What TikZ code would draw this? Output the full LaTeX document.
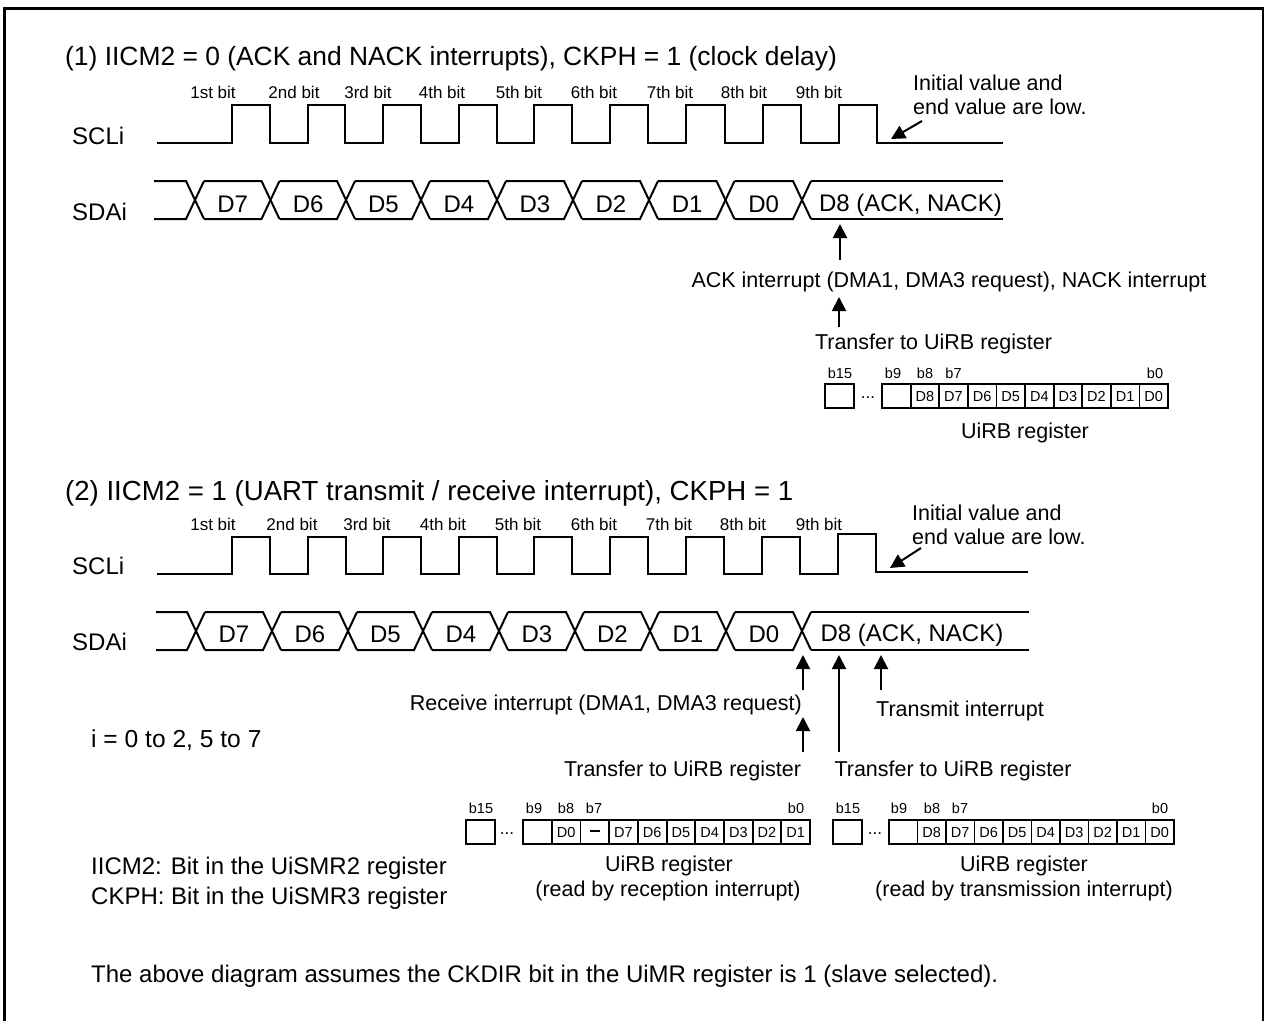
\documentclass[tikz,border=0pt]{standalone}
\usepackage{fontspec}
\setmainfont{Liberation Sans}
\usetikzlibrary{arrows.meta}
\tikzset{
    lab/.style={font=\fontsize{26.4}{30}\selectfont, inner sep=0pt},
    txt/.style={font=\fontsize{21.5}{26}\selectfont, inner sep=0pt},
    big/.style={font=\fontsize{24}{28}\selectfont, inner sep=0pt},
    bitlab/.style={font=\fontsize{17}{20}\selectfont, inner sep=0pt},
    reglab/.style={font=\fontsize{14.5}{17}\selectfont, inner sep=0pt}
}

\begin{document}
\begin{tikzpicture}[x=1pt,y=-1pt, line join=miter]

\tikzset{
  main/.style={draw=black, line width=2pt},
  pointer/.style={draw=black, line width=2pt, -{Triangle[length=14pt,width=14pt]}},
  cell/.style={draw=black, line width=1.8pt, minimum width=28.6pt, minimum height=24pt, inner sep=0pt, text height=10.5pt, text depth=0pt, font=\fontsize{14.5}{17}\selectfont},
  gapcell/.style={draw=black, line width=2pt, minimum width=29pt, minimum height=24pt, inner sep=0pt},
}

\useasboundingbox (0,0) rectangle (1264,1021);

% frame
\draw[line width=3pt] (4.5,1021) -- (4.5,8.5) -- (1264,8.5);
\draw[line width=2pt] (1263,8.5) -- (1263,1021);

% titles
\node[lab, anchor=west] (title1) at (65,59) {(1) IICM2 = 0 (ACK and NACK interrupts), CKPH = 1 (clock delay)};
\node[lab, anchor=west, font=\fontsize{27.6}{30}\selectfont] (title2) at (65,493) {(2) IICM2 = 1 (UART transmit / receive interrupt), CKPH = 1};

% signal names
\node[big, anchor=west] (scl1) at (72,136) {SCLi};
\node[big, anchor=west] (sda1) at (72,212) {SDAi};
\node[big, anchor=west] (scl2) at (72,566) {SCLi};
\node[big, anchor=west] (sda2) at (72,642) {SDAi};

% clock (1)
\draw[main] (157,143) -- (232,143) -- (232,105) -- (270,105) -- (270,143)
  -- (308,143) -- (308,105) -- (345,105) -- (345,143)
  -- (383,143) -- (383,105) -- (421,105) -- (421,143)
  -- (459,143) -- (459,105) -- (497,105) -- (497,143)
  -- (534,143) -- (534,105) -- (572,105) -- (572,143)
  -- (610,143) -- (610,105) -- (648,105) -- (648,143)
  -- (686,143) -- (686,105) -- (725,105) -- (725,143)
  -- (763,143) -- (763,105) -- (801,105) -- (801,143)
  -- (839,143) -- (839,105) -- (877,105) -- (877,143) -- (1003,143);

% clock (2)
\draw[main] (157,574) -- (232,574) -- (232,537) -- (270,537) -- (270,574)
  -- (308,574) -- (308,537) -- (346,537) -- (346,574)
  -- (383,574) -- (383,537) -- (421,537) -- (421,574)
  -- (459,574) -- (459,537) -- (497,537) -- (497,574)
  -- (534,574) -- (534,537) -- (572,537) -- (572,574)
  -- (610,574) -- (610,537) -- (648,537) -- (648,574)
  -- (686,574) -- (686,537) -- (724,537) -- (724,574)
  -- (762,574) -- (762,537) -- (800,537) -- (800,574)
  -- (838,574) -- (838,534) -- (876,534) -- (876,572) -- (1028,572);

% bit numbers
\foreach \nm/\xa/\xb/\lbl in {a/213/213/1st, b/294/292/2nd, c/368/367/3rd, d/442/443/4th, e/519/518/5th, f/594/594/6th, g/670/669/7th, h/744/743/8th, i/819/819/9th}{
  \node[bitlab] (bita\nm) at (\xa,92) {\lbl\ bit};
  \node[bitlab] (bitb\nm) at (\xb,524) {\lbl\ bit};
}

% data (1)
\draw[main] (154,181) -- (186,181) -- (204,219);
\draw[main] (154,219) -- (186,219) -- (204,181);
\foreach \xl/\xr/\lbl [count=\n] in {195/270.5/D7, 270.5/346/D6, 346/421/D5, 421/497/D4, 497/573/D3, 573/649/D2, 649/725.5/D1, 725.5/802/D0}{
  \draw[main] (\xl+9,181) -- (\xr-9,181) -- (\xr+9,219);
  \draw[main] (\xl+9,219) -- (\xr-9,219) -- (\xr+9,181);
  \node[big] (dataa\n) at ({(\xl+\xr)/2},204) {\lbl};
}
\draw[main] (811,181) -- (1003,181);
\draw[main] (811,219) -- (1003,219);
\node[big] (dataa9) at (910.5,205) {D8 (ACK, NACK)};

% data (2)
\draw[main] (156,612) -- (187,612) -- (205,650);
\draw[main] (156,650) -- (187,650) -- (205,612);
\foreach \xl/\xr/\lbl [count=\n] in {196/272/D7, 272/348/D6, 348/423/D5, 423/499/D4, 499/575/D3, 575/650/D2, 650/726/D1, 726/802/D0}{
  \draw[main] (\xl+9,612) -- (\xr-9,612) -- (\xr+9,650);
  \draw[main] (\xl+9,650) -- (\xr-9,650) -- (\xr+9,612);
  \node[big] (datab\n) at ({(\xl+\xr)/2},634) {\lbl};
}
\draw[main] (811,612) -- (1029,612);
\draw[main] (811,650) -- (1029,650);
\node[big] (datab9) at (912,635) {D8 (ACK, NACK)};

% notes (1)
\node[txt, anchor=west] (inita) at (913,83) {Initial value and};
\node[txt, anchor=west] (initb) at (913,107) {end value are low.};
\node[txt] (ack) at (949,281.5) {ACK interrupt (DMA1, DMA3 request), NACK interrupt};
\node[txt] (xfer) at (933.5,343.5) {Transfer to UiRB register};

\coordinate (lowa) at (891,139);
\coordinate (ackt) at (840,224);
\coordinate (ackb) at (840,260);
\coordinate (xfert) at (839,297);
\coordinate (xferb) at (839,327);
\draw[pointer] (922,121) -- (lowa);
\draw[pointer] (ackb) -- (ackt);
\draw[pointer] (xferb) -- (xfert);

% notes (2)
\node[txt, anchor=west] (initc) at (912,513) {Initial value and};
\node[txt, anchor=west] (initd) at (912,537) {end value are low.};
\node[txt, anchor=east] (rx) at (802,704.5) {Receive interrupt (DMA1, DMA3 request)};
\node[txt, anchor=west] (tx) at (876,710.5) {Transmit interrupt};
\node[txt] (xferc) at (682.5,770.5) {Transfer to UiRB register};
\node[txt] (xferd) at (953,770.5) {Transfer to UiRB register};
\node[big, anchor=west, font=\fontsize{24.6}{28}\selectfont] (range) at (91,740) {i = 0 to 2, 5 to 7};
\node[big, anchor=west] (noteb) at (91,868) {IICM2: Bit in the UiSMR2 register};
\node[big, anchor=west] (notec) at (91,898) {CKPH: Bit in the UiSMR3 register};
\node[big, anchor=west] (noted) at (91,976) {The above diagram assumes the CKDIR bit in the UiMR register is 1 (slave selected).};

\coordinate (lowb) at (890,568);
\draw[pointer] (921,548) -- (lowb);
\draw[pointer] (803,690) -- (803,655);
\draw[pointer] (803,752) -- (803,717);
\draw[pointer] (839,752) -- (839,655);
\draw[pointer] (881,690) -- (881,655);

% register (1)
\node[gapcell] (rega15) at (839.5,396) {};
\node[bitlab] (regadots) at (868,398) {...};
\foreach \lbl [count=\n] in {,D8,D7,D6,D5,D4,D3,D2,D1,D0}{
  \node[cell] (rega\n) at (882+28.6*\n-14.3,396) {\lbl};
}
\foreach \lbl/\xb in {b15/840, b9/893, b8/925, b7/953.5, b0/1155}{
  \node[reglab] (labela\lbl) at (\xb,373) {\lbl};
}
\node[txt] (namea) at (1025,432.5) {UiRB register};

% register (2), reception
\node[gapcell] (regb15) at (480,832) {};
\node[bitlab] (regbdots) at (507,834) {...};
\foreach \lbl [count=\n] in {,D0,\rule[5pt]{10pt}{2.5pt},D7,D6,D5,D4,D3,D2,D1}{
  \node[cell] (regb\n) at (523+28.7*\n-14.3,832) {\lbl};
}
\foreach \lbl/\xb in {b15/481, b9/534, b8/566, b7/594, b0/796}{
  \node[reglab] (labelb\lbl) at (\xb,808) {\lbl};
}
\node[txt] (nameb) at (669,865.5) {UiRB register};
\node[txt] (nameba) at (668,890.5) {(read by reception interrupt)};

% register (2), transmission
\node[gapcell] (regc15) at (847,832) {};
\node[bitlab] (regcdots) at (875,834) {...};
\foreach \lbl [count=\n] in {,D8,D7,D6,D5,D4,D3,D2,D1,D0}{
  \node[cell] (regc\n) at (889+28.5*\n-14.3,832) {\lbl};
}
\foreach \lbl/\xb in {b15/848, b9/899, b8/932, b7/960, b0/1160}{
  \node[reglab] (labelc\lbl) at (\xb,808) {\lbl};
}
\node[txt] (namec) at (1024,865.5) {UiRB register};
\node[txt] (nameca) at (1024,890.5) {(read by transmission interrupt)};

\end{tikzpicture}
\end{document}
